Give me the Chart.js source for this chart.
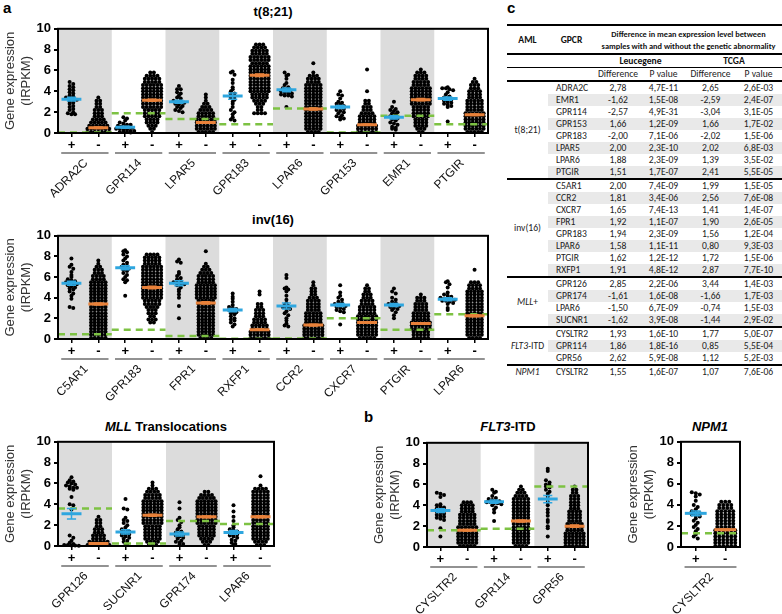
<!DOCTYPE html>
<html><head><meta charset="utf-8">
<script src="https://cdn.jsdelivr.net/npm/chart.js@4.4.0/dist/chart.umd.min.js"></script>
<style>
body{margin:0;width:782px;height:614px;position:relative;background:#fff;overflow:hidden;font-family:Arial,"Liberation Sans",sans-serif}
canvas{position:absolute}
.t{position:absolute;font-weight:bold;font-size:13px;line-height:16px;color:#000;text-align:center;white-space:nowrap}
.L{position:absolute;font-weight:bold;font-size:15px;line-height:16px;color:#000}
#tbl{position:absolute;left:507px;top:24px;width:275px;border-collapse:collapse;table-layout:fixed;font-family:"Carlito","Liberation Sans Narrow","Open Sans",sans-serif;font-size:9.6px;color:#222}
#tbl td,#tbl th{padding:0;height:12px;line-height:11px;text-align:center;white-space:nowrap;overflow:hidden}
#tbl th{font-weight:bold;color:#111}
#tbl tr.h1 th{height:27px;border-top:2px solid #000;border-bottom:2px solid #000;line-height:12px}
#tbl tr.h1 th.big{font-size:8.3px;overflow:visible;line-height:12px}
#tbl tr.h2 th{border-bottom:1px solid #000}
#tbl tr.h3 td{border-bottom:2px solid #000}
#tbl tr.g td{border-top:2px solid #000}
#tbl tr.z td.s{background:#e9e9e9}
#tbl td.gp{text-align:left;padding-left:8px}
#tbl td.aml{vertical-align:middle}
</style></head><body>
<div class="L" style="left:3px;top:0px">a</div>
<div class="L" style="left:364px;top:409px">b</div>
<div class="L" style="left:507px;top:0px">c</div>
<div class="t" style="left:173px;top:4px;width:200px">t(8;21)</div>
<div class="t" style="left:173px;top:212px;width:200px">inv(16)</div>
<div class="t" style="left:66px;top:419px;width:200px"><i>MLL</i> Translocations</div>
<div class="t" style="left:408px;top:419px;width:200px"><i>FLT3</i>-ITD</div>
<div class="t" style="left:660px;top:419px;width:100px"><i>NPM1</i></div>
<table id="tbl">
<colgroup><col style="width:41px"><col style="width:47px"><col style="width:46px"><col style="width:45px"><col style="width:49px"><col style="width:47px"></colgroup>
<thead>
<tr class="h1"><th>AML</th><th>GPCR</th><th class="big" colspan="4">Difference in mean expression level between<br>samples with and without the genetic abnormality</th></tr>
<tr class="h2"><th></th><th></th><th colspan="2">Leucegene</th><th colspan="2">TCGA</th></tr>
<tr class="h3"><td></td><td></td><td>Difference</td><td>P value</td><td>Difference</td><td>P value</td></tr>
</thead>
<tbody id="tb"></tbody>
</table>
<script>
// ---------------- DATA ----------------
// "-" swarms: dot counts per row, rows at ROW0 + k*ROWSTEP (IRPKM)
const ROW0 = 0.1, ROWSTEP = 0.3;

const t821Genes = ['ADRA2C','GPR114','LPAR5','GPR183','LPAR6','GPR153','EMR1','PTGIR'];
const t821Pos = [
 [4.9,4.7,4.5,4.4,4.2,4.1,3.9,3.8,3.6,3.5,3.4,3.3,3.2,3.2,3.0,2.9,2.8,2.6,2.5,2.3,2.2,2.0,1.9,1.8,1.8],
 [1.5,1.4,1.2,1.0,0.9,0.8,0.8,0.7,0.6,0.6,0.5,0.5,0.4,0.4,0.3,0.3,0.2,0.2,0.1,0.1,0.1,0.05],
 [4.5,4.2,4.2,3.9,3.8,3.6,3.4,3.3,3.1,3.0,3.0,2.9,2.8,2.7,2.6,2.5,2.4,2.2,2.1,2.0],
 [5.9,5.8,5.6,5.1,4.8,4.4,4.2,4.0,3.8,3.7,3.5,3.4,3.2,3.0,2.8,2.5,2.2,2.0,1.8,1.5,1.3,1.2],
 [5.8,5.6,5.5,5.2,4.8,4.6,4.4,4.3,4.2,4.1,4.0,3.9,3.8,3.8,3.7,3.6,3.6,3.5,2.5],
 [4.0,3.7,3.6,3.3,3.0,2.9,2.8,2.7,2.6,2.5,2.4,2.3,2.2,2.1,2.0,1.9,1.7,1.6,1.5,1.4,1.3],
 [3.0,2.5,2.3,2.2,2.1,2.0,1.9,1.8,1.6,1.5,1.4,1.3,1.2,1.0,0.9,0.8,0.6,0.5,0.4,0.3],
 [4.4,4.3,4.3,4.2,4.1,3.9,3.7,3.5,3.4,3.3,3.2,3.1,3.0,2.9,2.8,2.7,2.6,2.5,1.1]
];
const t821NegRows = [
 '7,7,6,5,4,3,3,3,2,2,2,1',
 '1,2,3,4,4,5,5,5,6,6,6,6,6,6,6,6,5,5,4,2',
 '5,6,6,6,6,5,5,4,3,2,1,1,1',
 '0,0,0,0,0,0,4,2,2,3,4,5,5,6,6,6,6,6,6,6,6,6,5,6,6,5,5,4,3',
 '4,5,5,5,5,5,5,5,5,5,5,5,5,5,5,5,4,4,3,1,0,0,1',
 '6,6,6,5,5,5,4,3,3,2,2,0,0,1,0,0,0,0,0,0,1',
 '2,3,4,4,4,5,5,5,5,6,6,6,6,6,6,5,5,4,4,3,1',
 '5,6,6,6,6,6,6,5,5,5,5,4,4,4,3,3,2,1'
];
const t821PosMean = [3.25,0.55,3.0,3.55,4.15,2.5,1.5,3.3];
const t821PosSem  = [0.18,0.1,0.15,0.3,0.18,0.15,0.15,0.15];
const t821NegMean = [0.5,3.15,1.0,5.55,2.3,0.8,3.2,1.75];
const t821NegSem  = [0.08,0.1,0.07,0.12,0.1,0.06,0.1,0.08];
const t821Cutoff  = [0.05,1.9,1.35,0.85,2.35,0.05,1.65,0.85];

const inv16Genes = ['C5AR1','GPR183','FPR1','RXFP1','CCR2','CXCR7','PTGIR','LPAR6'];
const inv16Pos = [
 [7.8,7.2,7.0,6.8,6.5,6.2,6.0,5.8,5.7,5.6,5.5,5.5,5.4,5.3,5.2,5.1,5.0,4.9,4.8,4.6,4.4,4.2,3.9,3.1,3.0],
 [8.6,8.5,8.4,8.2,8.0,7.8,7.6,7.4,7.2,7.1,7.0,6.9,6.8,6.7,6.6,6.4,6.2,6.0,5.8,5.7,5.5,4.2],
 [7.7,7.5,7.4,6.5,6.3,6.1,5.9,5.8,5.6,5.5,5.5,5.4,5.3,5.2,5.0,4.8,4.6,4.3,4.0,3.2,2.0],
 [4.4,4.1,3.9,3.6,3.3,3.1,3.0,2.9,2.8,2.7,2.6,2.5,2.4,2.2,2.0,1.9,1.8,1.6,1.4,1.2],
 [6.2,5.9,5.0,4.9,4.8,4.6,4.2,3.8,3.5,3.3,3.2,3.1,3.0,2.9,2.7,2.5,2.3,2.0,1.8,1.5,1.3,1.2],
 [5.2,4.5,4.2,4.0,3.8,3.6,3.5,3.4,3.3,3.3,3.2,3.1,3.0,2.9,2.8,2.7,2.6,1.4],
 [4.9,4.6,4.4,4.0,3.8,3.6,3.5,3.4,3.3,3.3,3.2,3.1,3.0,2.9,2.8,2.6,2.3,2.0],
 [5.6,5.5,5.3,5.0,4.5,4.3,4.2,4.1,4.0,3.9,3.9,3.8,3.8,3.7,3.7,3.6,3.5,3.4,3.0,2.8]
];
const inv16NegRows = [
 '5,5,5,5,5,5,5,5,5,5,5,5,5,5,5,5,5,5,5,4,4,3,3,2,1,1',
 '0,0,0,0,0,2,3,2,3,3,4,5,5,6,6,6,6,6,6,6,6,6,6,6,5,5,5,4',
 '4,5,5,5,5,5,5,5,5,5,5,5,5,6,6,6,6,6,5,5,5,4,3,2,1,0,0,0,1',
 '6,6,6,5,5,4,4,3,3,3,2,2,0,0,1,1',
 '6,6,6,6,6,5,5,5,5,4,4,4,4,3,2,2,2,1,1',
 '5,6,6,6,6,6,6,6,5,5,5,4,4,3,3,2,2,1',
 '5,5,5,6,6,6,5,5,5,4,4,4,3,3,1',
 '4,5,5,5,5,5,5,5,5,5,5,5,5,5,5,5,4,4,3,0,0,0,1'
];
const inv16PosMean = [5.4,6.9,5.4,2.8,3.2,3.3,3.3,3.85];
const inv16PosSem  = [0.2,0.2,0.25,0.15,0.3,0.15,0.15,0.15];
const inv16NegMean = [3.4,5.0,3.5,0.9,1.35,1.6,1.5,2.25];
const inv16NegSem  = [0.1,0.12,0.12,0.06,0.08,0.08,0.07,0.1];
const inv16Cutoff  = [0.47,0.9,0.28,0.03,0.05,2.0,0.9,2.4];

const mllGenes = ['GPR126','SUCNR1','GPR174','LPAR6'];
const mllPos = [
 [6.6,6.3,6.2,6.1,6.0,5.9,5.8,5.7,5.6,5.6,5.5,5.4,4.7,4.0,3.9,3.5,1.0,0.8,0.5,0.3,0.2,0.1,0.1,0.05,0.05,0.02],
 [4.5,3.6,3.5,2.7,2.5,2.4,2.2,2.0,1.8,1.6,1.5,1.4,1.3,1.2,1.1,1.0,0.9,0.8,0.7,0.5,0.4,0.2,0.1],
 [4.2,3.6,2.7,2.5,2.3,2.0,1.8,1.6,1.4,1.3,1.2,1.1,1.0,0.9,0.8,0.7,0.5,0.4,0.3,0.2,0.1],
 [3.9,3.3,2.8,2.4,2.0,1.8,1.6,1.5,1.4,1.3,1.2,1.1,1.0,0.9,0.8,0.6,0.5,0.3,0.2,0.1]
];
const mllNegRows = [
 '7,6,4,4,3,3,2,2,2,1',
 '3,4,5,5,5,5,5,6,6,6,6,6,6,6,6,5,5,4,3,1,1',
 '2,3,4,5,5,5,5,6,6,6,6,6,6,6,6,5,4,2',
 '3,4,5,5,5,5,5,5,5,5,5,5,5,5,5,5,5,5,4,1,0,0,1'
];
const mllPosMean = [3.1,1.35,1.15,1.3];
const mllPosSem  = [0.5,0.2,0.2,0.18];
const mllNegMean = [0.25,2.95,2.8,2.8];
const mllNegSem  = [0.05,0.1,0.09,0.1];
const mllCutoff  = [3.6,0.25,2.4,2.1];

const flt3Genes = ['CYSLTR2','GPR114','GPR56'];
const flt3Pos = [
 [5.2,5.1,5.0,4.8,4.1,4.0,3.9,3.8,3.7,3.6,3.5,3.4,3.3,3.2,3.1,3.0,2.9,2.8,2.7,2.6,1.8,1.0],
 [5.5,5.3,5.2,4.9,4.7,4.6,4.5,4.4,4.4,4.3,4.3,4.2,4.2,4.1,4.0,3.8,3.6,3.3,2.5],
 [7.5,7.3,6.4,6.2,6.0,5.9,5.8,5.7,5.5,5.3,5.1,4.9,4.6,4.3,4.0,3.6,3.3,3.0,2.6,2.4,2.0,1.8,1.0]
];
const flt3NegRows = [
 '5,6,6,6,6,6,6,5,5,5,5,4,4,4,3',
 '4,5,5,5,5,5,5,5,5,5,5,5,5,5,5,5,4,3,2,1',
 '6,6,6,6,6,5,5,5,4,4,4,4,3,3,3,3,3,2,2,1'
];
const flt3PosMean = [3.5,4.35,4.6];
const flt3PosSem  = [0.18,0.15,0.35];
const flt3NegMean = [1.6,2.5,2.0];
const flt3NegSem  = [0.07,0.1,0.1];
const flt3Cutoff  = [1.6,1.75,5.8];

const npm1Genes = ['CYSLTR2'];
const npm1Pos = [[5.2,5.1,5.0,4.8,4.4,4.0,3.8,3.6,3.4,3.3,3.2,3.1,3.0,2.9,2.7,2.5,2.3,2.1,1.9,1.7,1.5,1.2,1.0,0.8]];
const npm1NegRows = ['6,6,6,6,6,6,5,5,5,5,5,5,4,4,3'];
const npm1PosMean = [3.2];
const npm1PosSem  = [0.22];
const npm1NegMean = [1.65];
const npm1NegSem  = [0.07];
const npm1Cutoff  = [1.3];

const yTicks = [0,2,4,6,8,10];
const groupLabels = ['+','-'];

// table c
const tblAml = ['t(8;21)','inv(16)','<i>MLL</i>+','<i>FLT3</i>-ITD','<i>NPM1</i>'];
const tblGpcr = [
 ['ADRA2C','EMR1','GPR114','GPR153','GPR183','LPAR5','LPAR6','PTGIR'],
 ['C5AR1','CCR2','CXCR7','FPR1','GPR183','LPAR6','PTGIR','RXFP1'],
 ['GPR126','GPR174','LPAR6','SUCNR1'],
 ['CYSLTR2','GPR114','GPR56'],
 ['CYSLTR2']];
const tblLeuDiff = [
 ['2,78','-1,62','-2,57','1,66','-2,00','2,00','1,88','1,51'],
 ['2,00','1,81','1,65','1,92','1,94','1,58','1,62','1,91'],
 ['2,85','-1,61','-1,50','-1,62'],
 ['1,93','1,86','2,62'],
 ['1,55']];
const tblLeuP = [
 ['4,7E-11','1,5E-08','4,9E-31','1,2E-09','7,1E-06','2,3E-10','2,3E-09','1,7E-07'],
 ['7,4E-09','3,4E-06','7,4E-13','1,1E-07','2,3E-09','1,1E-11','1,2E-12','4,8E-12'],
 ['2,2E-06','1,6E-08','6,7E-09','3,9E-08'],
 ['1,6E-10','1,8E-16','5,9E-08'],
 ['1,6E-07']];
const tblTcgaDiff = [
 ['2,65','-2,59','-3,04','1,66','-2,02','2,02','1,39','2,41'],
 ['1,99','2,56','1,41','1,90','1,56','0,80','1,72','2,87'],
 ['3,44','-1,66','-0,74','-1,44'],
 ['1,77','0,85','1,12'],
 ['1,07']];
const tblTcgaP = [
 ['2,6E-03','2,4E-07','3,1E-05','1,7E-02','1,5E-06','6,8E-03','3,5E-02','5,5E-05'],
 ['1,5E-05','7,6E-08','1,4E-07','2,6E-05','1,2E-04','9,3E-03','1,5E-06','7,7E-10'],
 ['1,4E-03','1,7E-03','1,5E-03','2,9E-02'],
 ['5,0E-07','5,5E-04','5,2E-03'],
 ['7,6E-06']];

// ---------------- STYLE / LAYOUT ----------------
const BLUE='#2ea6df', ORANGE='#e8813a', GREEN='#7dc243', BAND='#dcdcdc';
const YW=58, PT=8, PR=6, XH=22, X2H=62;
const DOT_DX=0.135, MW=0.37, CW=0.17;
const FONT='Arial, "Liberation Sans", sans-serif';
Chart.defaults.font.family=FONT;

function decodeRows(str){
  const v=[];
  str.split(',').forEach((c,k)=>{for(let i=0;i<+c;i++) v.push(+(ROW0+k*ROWSTEP).toFixed(2));});
  return v;
}
function swarmPoints(values, center){
  const bins=new Map();
  values.forEach(v=>{const k=Math.round(v/ROWSTEP); if(!bins.has(k)) bins.set(k,[]); bins.get(k).push(v);});
  const pts=[];
  bins.forEach(arr=>arr.forEach((v,i)=>pts.push({x:center+(i-(arr.length-1)/2)*DOT_DX,y:v})));
  return pts;
}
function addMean(lines, sem, c, m, s){
  lines.push({x:c-MW,y:m},{x:c+MW,y:m},{x:c,y:null});
  sem.push({x:c,y:m-s},{x:c,y:m+s},{x:c,y:null},
           {x:c-CW,y:m+s},{x:c+CW,y:m+s},{x:c,y:null},
           {x:c-CW,y:m-s},{x:c+CW,y:m-s},{x:c,y:null});
}

const panelPlugin={
  id:'panel',
  beforeDatasetsDraw(ch,args,o){
    if(!o.bands) return;
    const {ctx,chartArea:a,scales:{x}}=ch;
    ctx.save(); ctx.fillStyle=BAND;
    for(let i=0;i<o.genes.length;i+=2){const l=x.getPixelForValue(2*i), r=x.getPixelForValue(2*i+2); ctx.fillRect(l,a.top,r-l,a.bottom-a.top);}
    ctx.restore();
  },
  afterDraw(ch,args,o){
    const {ctx,chartArea:a,scales:{x}}=ch;
    ctx.save();
    ctx.strokeStyle='#000'; ctx.lineWidth=2;
    ctx.strokeRect(a.left,a.top,a.right-a.left,a.bottom-a.top);
    ctx.strokeStyle='#6e6e6e'; ctx.lineWidth=1.5;
    const y=a.bottom+XH-2;
    o.genes.forEach((g,i)=>{
      ctx.beginPath(); ctx.moveTo(x.getPixelForValue(2*i+0.12),y); ctx.lineTo(x.getPixelForValue(2*i+1.88),y); ctx.stroke();
    });
    // rotated gene names under each +/- pair
    ctx.fillStyle='#111'; ctx.font='12px '+FONT; ctx.textAlign='right'; ctx.textBaseline='top';
    o.genes.forEach((g,i)=>{
      ctx.save(); ctx.translate(x.getPixelForValue(2*i+1)-3, a.bottom+XH+2); ctx.rotate(-Math.PI/4);
      ctx.fillText(g,0,0); ctx.restore();
    });
    ctx.restore();
  }
};

function makePanel(geo, d){
  const n=d.genes.length;
  const cv=document.createElement('canvas');
  const W=YW+geo.w+PR, H=PT+geo.h+XH+X2H;
  cv.width=W; cv.height=H; cv.style.width=W+'px'; cv.style.height=H+'px';
  cv.style.left=(geo.x-YW)+'px'; cv.style.top=(geo.y-PT)+'px';
  document.body.appendChild(cv);
  const dots=[], blue=[], blueSem=[], orange=[], orangeSem=[], green=[];
  for(let i=0;i<n;i++){
    const cp=2*i+0.5, cn=2*i+1.5;
    dots.push(...swarmPoints(d.pos[i],cp), ...swarmPoints(decodeRows(d.negRows[i]),cn));
    addMean(blue, blueSem, cp, d.posMean[i], d.posSem[i]);
    addMean(orange, orangeSem, cn, d.negMean[i], d.negSem[i]);
    green.push({x:2*i,y:d.cutoff[i]},{x:2*i+2,y:d.cutoff[i]},{x:2*i+2,y:null});
  }
  const line=(data,color,w,order,dash)=>({type:'scatter',data,showLine:true,spanGaps:false,borderColor:color,borderWidth:w,borderDash:dash||[],pointRadius:0,order,clip:false});
  const plusMinus=[]; for(let i=0;i<2*n;i++) plusMinus.push(i+0.5);
  new Chart(cv,{
    type:'scatter',
    data:{datasets:[
      {data:dots,pointRadius:2,pointBackgroundColor:'#000',pointBorderWidth:0,order:5,clip:3},
      line(green,GREEN,2.5,4,[7,5]),
      line(blueSem,BLUE,1.5,3), line(blue,BLUE,3,2),
      line(orangeSem,ORANGE,1.5,3), line(orange,ORANGE,3,2)
    ]},
    options:{
      responsive:false, animation:false, devicePixelRatio:1,
      layout:{padding:{top:PT,right:PR,left:0,bottom:X2H}},
      plugins:{legend:{display:false},tooltip:{enabled:false},panel:{genes:d.genes,bands:d.bands}},
      scales:{
        x:{type:'linear',min:0,max:2*n,position:'bottom',
           afterBuildTicks:s=>{s.ticks=plusMinus.map(v=>({value:v}));},
           afterFit:s=>{s.height=XH;},
           ticks:{autoSkip:false,minRotation:0,maxRotation:0,padding:1,color:'#000',font:{size:13,weight:'bold'},
                  callback:v=>groupLabels[Math.round(v*2)%4===1?0:1]},
           grid:{drawOnChartArea:false,tickLength:4,color:'#000',lineWidth:1.5},
           border:{display:false}},
        y:{min:0,max:10,
           afterBuildTicks:s=>{s.ticks=yTicks.map(v=>({value:v}));},
           afterFit:s=>{s.width=YW;},
           ticks:{color:'#000',padding:3,font:{size:13,weight:'bold'}},
           grid:{drawOnChartArea:false,tickLength:4,color:'#000',lineWidth:2},
           border:{display:false},
           title:{display:true,text:['Gene expression','(IRPKM)'],color:'#333',font:{size:13},padding:{top:3,bottom:0}}}
      }
    },
    plugins:[panelPlugin]
  });
}

makePanel({x:58,y:26,w:430,h:107},{genes:t821Genes,pos:t821Pos,negRows:t821NegRows,posMean:t821PosMean,posSem:t821PosSem,negMean:t821NegMean,negSem:t821NegSem,cutoff:t821Cutoff,bands:true});
makePanel({x:58,y:233,w:430,h:106},{genes:inv16Genes,pos:inv16Pos,negRows:inv16NegRows,posMean:inv16PosMean,posSem:inv16PosSem,negMean:inv16NegMean,negSem:inv16NegSem,cutoff:inv16Cutoff,bands:true});
makePanel({x:58,y:439,w:216,h:107},{genes:mllGenes,pos:mllPos,negRows:mllNegRows,posMean:mllPosMean,posSem:mllPosSem,negMean:mllNegMean,negSem:mllNegSem,cutoff:mllCutoff,bands:true});
makePanel({x:427,y:440,w:161,h:107},{genes:flt3Genes,pos:flt3Pos,negRows:flt3NegRows,posMean:flt3PosMean,posSem:flt3PosSem,negMean:flt3NegMean,negSem:flt3NegSem,cutoff:flt3Cutoff,bands:true});
makePanel({x:681,y:439,w:59,h:108},{genes:npm1Genes,pos:npm1Pos,negRows:npm1NegRows,posMean:npm1PosMean,posSem:npm1PosSem,negMean:npm1NegMean,negSem:npm1NegSem,cutoff:npm1Cutoff,bands:false});

// table
const tb=document.getElementById('tb');
let html='';
tblAml.forEach((aml,g)=>{
  tblGpcr[g].forEach((gp,r)=>{
    const cls=[]; if(r===0&&g>0) cls.push('g'); if(r%2===1) cls.push('z');
    html+='<tr class="'+cls.join(' ')+'">';
    if(r===0) html+='<td class="aml" rowspan="'+tblGpcr[g].length+'">'+aml+'</td>';
    html+='<td class="s gp">'+gp+'</td><td class="s">'+tblLeuDiff[g][r]+'</td><td class="s">'+tblLeuP[g][r]+'</td><td class="s">'+tblTcgaDiff[g][r]+'</td><td class="s">'+tblTcgaP[g][r]+'</td></tr>';
  });
});
tb.innerHTML=html;
</script>
</body></html>
